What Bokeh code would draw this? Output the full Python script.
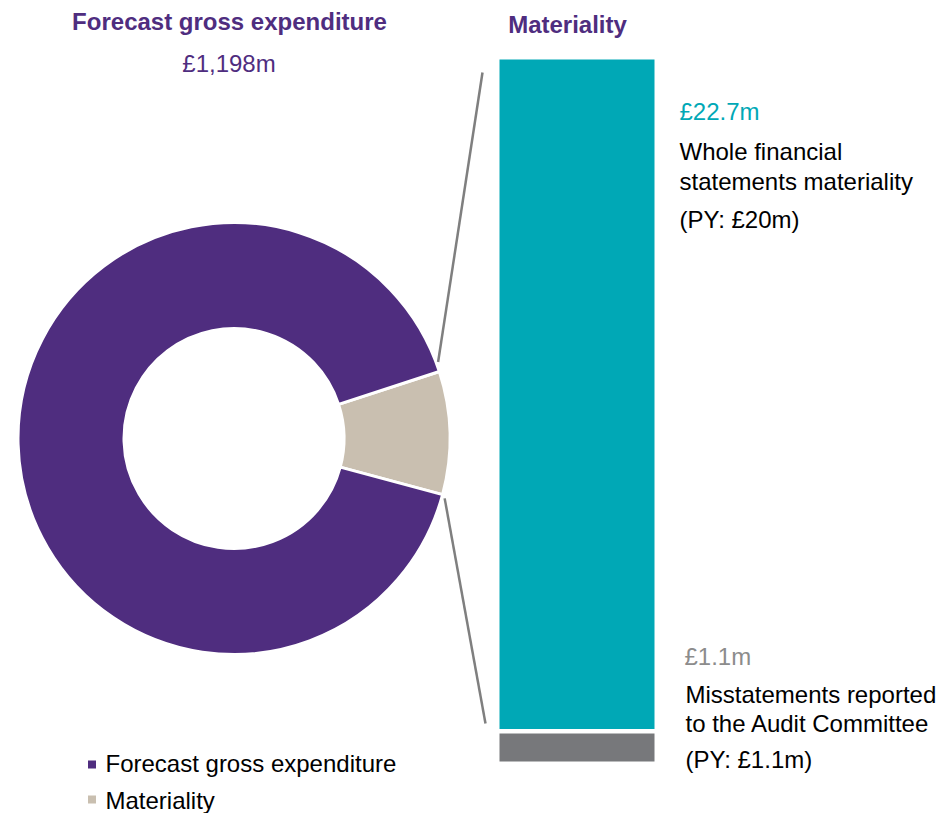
import math
import numpy as np
from bokeh.plotting import figure
from bokeh.models import Range1d, Label, ColumnDataSource
from bokeh.embed import file_html
from bokeh.resources import INLINE

# ---------------- data ----------------
donut_labels = ["Forecast gross expenditure", "Materiality"]
donut_shares = [90.8, 9.2]            # share of the donut (illustrative split)
expenditure_text = "£1,198m"

bar_names = ["Misstatements reported to the Audit Committee",
             "Whole financial statements materiality"]
bar_values = [1.1, 22.7]              # stacked bottom -> top (£m)
bar_value_texts = ["£1.1m", "£22.7m"]
bar_py_texts = ["(PY: £1.1m)", "(PY: £20m)"]
bar_desc_lines = [["Misstatements reported", "to the Audit Committee"],
                  ["Whole financial", "statements materiality"]]

# ---------------- style ----------------
PURPLE = "#4F2D7F"
BEIGE = "#C9BFB0"
TEAL = "#00A8B6"
GREY = "#77787B"
LINEC = "#7F7F7F"
FONT = "Liberation Sans"
FS = "24px"
TXT_DY = 9   # renderer places alphabetic baseline slightly lower

W, H = 939, 813


def Y(img_y):
    return H - img_y


p = figure(width=W, height=H, x_range=Range1d(0, W), y_range=Range1d(0, H),
           output_backend="svg", toolbar_location=None, min_border=0)
p.xaxis.visible = False
p.yaxis.visible = False
p.grid.visible = False
p.outline_line_color = None
p.background_fill_color = "white"

# ---------------- donut ----------------
cx, cy = 233.5, Y(438)
R_in, R_out = 110, 216
shares = np.array(donut_shares, dtype=float)
frac = shares / shares.sum()
order = [1, 0]                      # materiality slice first, centred near 0 deg
mat_centre = math.radians(1.5)
start0 = mat_centre - frac[1] * math.pi
ends = start0 + np.cumsum(frac[order]) * 2 * math.pi
starts = np.concatenate([[start0], ends[:-1]])
colors = [PURPLE, BEIGE]
src = ColumnDataSource(dict(
    label=[donut_labels[i] for i in order],
    start=starts, end=ends,
    color=[colors[i] for i in order]))
p.annular_wedge(x=cx, y=cy, inner_radius=R_in, outer_radius=R_out,
                start_angle="start", end_angle="end", fill_color="color",
                line_color="white", line_width=3, source=src)

# ---------------- stacked bar ----------------
bar_x, bar_w = 576.5, 155
bar_bottom_img, bar_top_img = 761, 59
total = float(sum(bar_values))
ppu = (bar_bottom_img - bar_top_img) / total
p.extra_y_ranges = {"mat": Range1d(-(H - bar_bottom_img) / ppu,
                                   total + bar_top_img / ppu)}
tops = np.cumsum(bar_values)
bottoms = tops - np.array(bar_values)
p.vbar(x=bar_x, width=bar_w, bottom=bottoms, top=tops, fill_color=[GREY, TEAL],
       line_color=None, y_range_name="mat")
gap = 4.5 / ppu
p.vbar(x=bar_x, width=bar_w + 1, bottom=tops[0] - gap, top=tops[0], fill_color="white",
       line_color=None, y_range_name="mat")

# ---------------- connector lines ----------------
bar_left = bar_x - bar_w / 2
a_top = ends[0] + math.radians(2.5)
a_bot = starts[0] - math.radians(0.8)
x0 = [cx + (R_out + 2) * math.cos(a_top), cx + (R_out + 3) * math.cos(a_bot)]
y0 = [cy + (R_out + 2) * math.sin(a_top), cy + (R_out + 3) * math.sin(a_bot)]
x1 = [bar_left - 17, bar_left - 14]
y1 = [Y(bar_top_img + 13), Y(bar_bottom_img - 38)]
p.segment(x0=x0, y0=y0, x1=x1, y1=y1, line_color=LINEC, line_width=2.5)

# ---------------- texts ----------------
def lab(x, base_img_y, t, color="black", bold=False, align="left", size=FS):
    p.add_layout(Label(x=x, y=Y(base_img_y - TXT_DY), text=t, text_color=color,
                       text_font=FONT, text_font_size=size,
                       text_font_style="bold" if bold else "normal",
                       text_align=align, text_baseline="alphabetic"))

lab(229, 30, donut_labels[0], PURPLE, bold=True, align="center")
lab(228.5, 72, expenditure_text, PURPLE, align="center")
lab(567, 33, donut_labels[1], PURPLE, bold=True, align="center")

# top block (materiality)
lab(679, 120, bar_value_texts[1], TEAL)
lab(679, 160, bar_desc_lines[1][0])
lab(679, 190, bar_desc_lines[1][1])
lab(679, 228, bar_py_texts[1])

# bottom block (misstatements)
lab(684, 665, bar_value_texts[0], "#8C8C8C")
lab(685, 703, bar_desc_lines[0][0])
lab(685, 732, bar_desc_lines[0][1])
lab(685, 768, bar_py_texts[0])

# legend
leg_y_sq = [Y(764), Y(799)]
leg_base = [772, 809]
p.scatter(x=[91.5, 91.5], y=leg_y_sq, marker="square", size=8,
          fill_color=colors, line_color=None)
for i, name in enumerate(donut_labels):
    lab(105, leg_base[i], name)

open("out.html", "w").write(file_html(p, INLINE))
